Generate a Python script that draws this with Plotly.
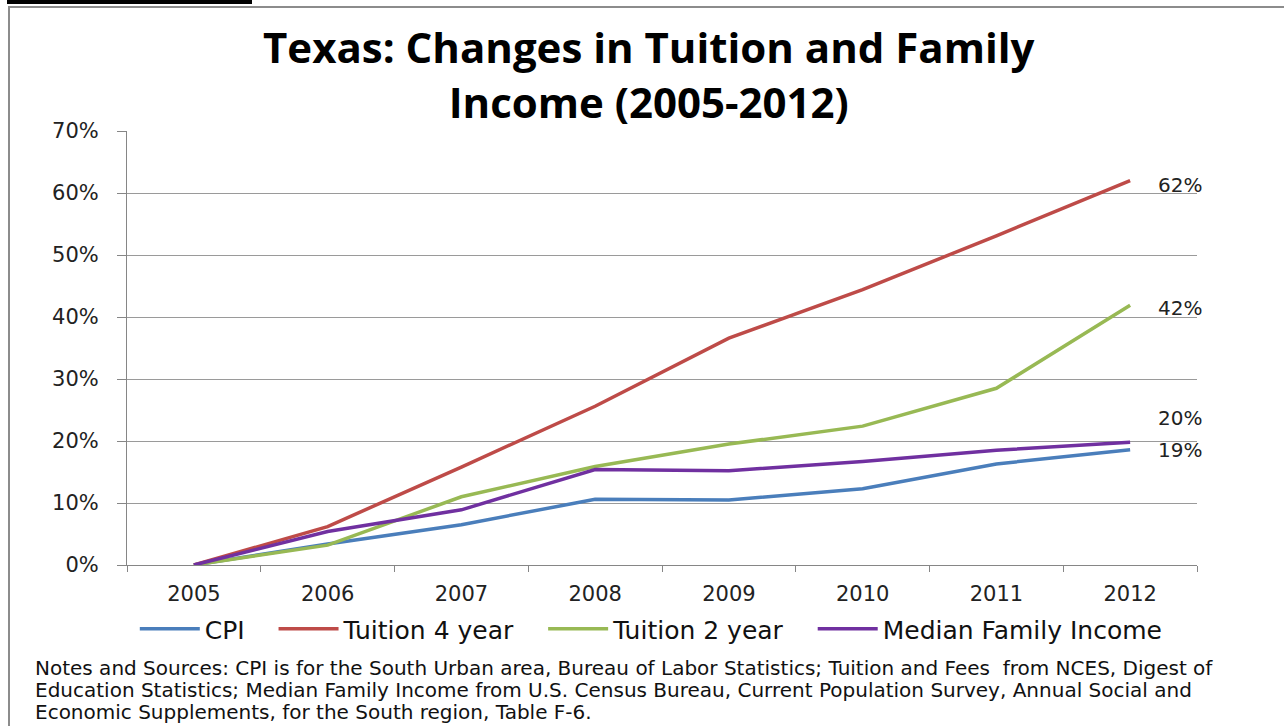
import plotly.graph_objects as go

years = ["2005", "2006", "2007", "2008", "2009", "2010", "2011", "2012"]
cpi = [0.0, 0.034, 0.065, 0.106, 0.105, 0.123, 0.163, 0.186]
tuition4 = [0.0, 0.062, 0.158, 0.256, 0.366, 0.444, 0.531, 0.620]
tuition2 = [0.0, 0.032, 0.110, 0.159, 0.195, 0.224, 0.285, 0.419]
median_income = [0.0, 0.054, 0.089, 0.154, 0.152, 0.167, 0.185, 0.198]

series = [
    ("CPI", cpi, "#4A7EBB"),
    ("Tuition 4 year", tuition4, "#BE4B48"),
    ("Tuition 2 year", tuition2, "#98B954"),
    ("Median Family Income", median_income, "#7030A0"),
]
# label vertical nudges (px) for end-of-line data labels
label_shift = {"CPI": 0, "Tuition 4 year": -4, "Tuition 2 year": -3, "Median Family Income": 24}

title_lines = ["Texas: Changes in Tuition and Family", "Income (2005-2012)"]
notes_lines = [
    "Notes and Sources: CPI is for the South Urban area, Bureau of Labor Statistics; Tuition and Fees  from NCES, Digest of",
    "Education Statistics; Median Family Income from U.S. Census Bureau, Current Population Survey, Annual Social and",
    "Economic Supplements, for the South region, Table F-6.",
]

W, H = 1284, 726
L, R, T, B = 127, 1197, 131, 565
pw, ph = R - L, B - T

def px_x(px):
    return (px - L) / pw

def px_y(py):
    return (B - py) / ph

fig = go.Figure()
for i, (name, vals, color) in enumerate(series):
    pad = "\u00a0\u00a0\u00a0" if i < len(series) - 1 else ""
    fig.add_trace(go.Scatter(x=years, y=vals, name=name + pad, mode="lines",
                             line=dict(color=color, width=3.5)))

annotations = []
last_idx = len(years) - 1
for name, vals, color in series:
    annotations.append(dict(x=last_idx, y=vals[-1], xref="x", yref="y",
                            text=f"{round(vals[-1]*100):.0f}%", showarrow=False,
                            xanchor="left", yanchor="middle", xshift=26,
                            yshift=label_shift[name],
                            font=dict(family="DejaVu Sans", size=20, color="#222")))

annotations.append(dict(x=px_x(649), y=px_y(74), xref="paper", yref="paper",
                        text="<b>" + "<br>".join(title_lines) + "</b>", showarrow=False,
                        xanchor="center", yanchor="middle", align="center",
                        font=dict(family="Open Sans", size=42, color="black")))

for i, line in enumerate(notes_lines):
    annotations.append(dict(x=px_x(33), y=px_y(668 + 22 * i), xref="paper", yref="paper",
                            text=line, showarrow=False, xanchor="left", yanchor="middle",
                            font=dict(family="DejaVu Sans", size=20, color="#111")))

shapes = [
    dict(type="rect", xref="paper", yref="paper",
         x0=px_x(9), x1=px_x(1300), y0=px_y(7), y1=px_y(740),
         line=dict(color="#8c8c8c", width=2), fillcolor="rgba(0,0,0,0)"),
    dict(type="rect", xref="paper", yref="paper",
         x0=px_x(7), x1=px_x(252), y0=px_y(0), y1=px_y(4),
         line=dict(width=0), fillcolor="black"),
]

fig.update_layout(
    width=W, height=H,
    margin=dict(l=L, r=W - R, t=T, b=H - B, autoexpand=False),
    paper_bgcolor="white", plot_bgcolor="white",
    xaxis=dict(type="category", range=[-0.5, len(years) - 0.5], tickson="boundaries",
               ticks="outside", ticklen=6,
               tickcolor="#868686", showline=True, linecolor="#868686", linewidth=1,
               showgrid=False, ticklabelstandoff=10,
               tickfont=dict(family="DejaVu Sans", size=21, color="#222")),
    yaxis=dict(range=[0, 0.70], dtick=0.1, tickformat=".0%", ticks="outside", ticklen=9,
               tickcolor="#868686", showline=True, linecolor="#868686", linewidth=1,
               showgrid=True, gridcolor="#9a9a9a", gridwidth=1, zeroline=False,
               ticklabelstandoff=14,
               tickfont=dict(family="DejaVu Sans", size=21, color="#222")),
    legend=dict(orientation="h", x=0.49, xanchor="center", y=px_y(629), yanchor="middle",
                font=dict(family="DejaVu Sans", size=25, color="#111"),
                itemwidth=60, traceorder="normal"),
    annotations=annotations,
    shapes=shapes,
)

fig.write_html("out.html")
